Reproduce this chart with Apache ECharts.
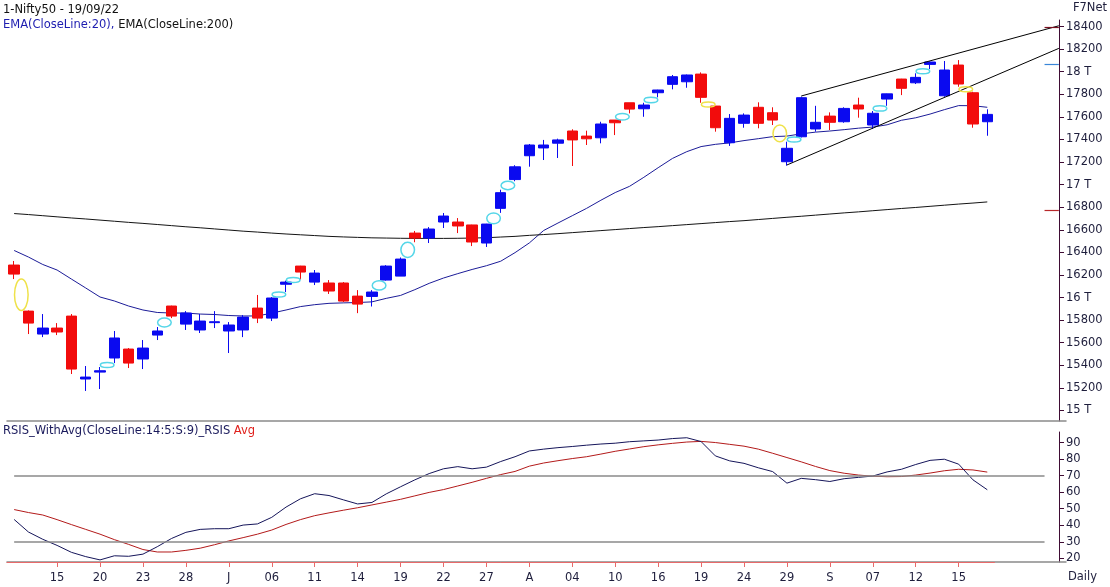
<!DOCTYPE html>
<html><head><meta charset="utf-8">
<script src="https://cdn.jsdelivr.net/npm/echarts@6/dist/echarts.min.js"></script>
<style>html,body{margin:0;padding:0;background:#fff}#c{width:1110px;height:587px}</style>
</head><body><div id="c"></div>
<script>
// ---- data ----
const dates = ['2022-06-10','2022-06-13','2022-06-14','2022-06-15','2022-06-16','2022-06-17','2022-06-20','2022-06-21','2022-06-22','2022-06-23','2022-06-24','2022-06-27','2022-06-28','2022-06-29','2022-06-30',
'2022-07-01','2022-07-04','2022-07-05','2022-07-06','2022-07-07','2022-07-08','2022-07-11','2022-07-12','2022-07-13','2022-07-14','2022-07-15','2022-07-18','2022-07-19','2022-07-20','2022-07-21','2022-07-22','2022-07-25','2022-07-26','2022-07-27','2022-07-28','2022-07-29',
'2022-08-01','2022-08-02','2022-08-03','2022-08-04','2022-08-05','2022-08-08','2022-08-10','2022-08-11','2022-08-12','2022-08-16','2022-08-17','2022-08-18','2022-08-19','2022-08-22','2022-08-23','2022-08-24','2022-08-25','2022-08-26','2022-08-29','2022-08-30',
'2022-09-01','2022-09-02','2022-09-05','2022-09-06','2022-09-07','2022-09-08','2022-09-09','2022-09-12','2022-09-13','2022-09-14','2022-09-15','2022-09-16','2022-09-19'];
const padCats = ['p1','p2','p3','p4','p5'];
const tickLabels = ['','','','15','','','20','','','23','','','28','','','J','','','06','','','11','','','14','','','19','','','22','','','27','','','A','','','04','','','10','','','16','','','19','','','24','','','29','','','S','','','07','','','12','','','15','',''];

const openP  = [16288,15880,15677,15730,15836,15279,15340,15465,15544,15456,15668,15925,15765,15713,15778,15704,15713,15907,15818,16118,16279,16137,16129,16129,16013,16010,16155,16190,16571,16527,16669,16669,16643,16483,16790,17045,17256,17325,17367,17475,17430,17415,17572,17725,17672,17814,17888,17911,17979,17696,17371,17543,17685,17637,17203,17424,17493,17607,17557,17705,17528,17758,17935,17902,18065,17787,18059,17814,17557];
const closeP = [16208,15774,15730,15695,15367,15296,15352,15642,15420,15553,15704,15836,15863,15792,15786,15757,15827,15818,15996,16137,16226,16217,16058,15969,15942,16049,16279,16341,16527,16607,16722,16634,16492,16651,16929,17158,17351,17351,17396,17396,17406,17537,17548,17669,17705,17838,17956,17971,17773,17504,17587,17616,17543,17572,17322,17770,17552,17552,17675,17670,17632,17804,17853,17950,18086,18015,17891,17537,17622.2];
const lowP   = [16164,15677,15650,15668,15323,15173,15190,15420,15376,15367,15624,15818,15713,15686,15730,15509,15650,15774,15792,16049,16160,16111,16032,15960,15862,15921,16150,16190,16490,16483,16616,16571,16456,16448,16750,17030,17159,17218,17236,17165,17351,17366,17439,17631,17601,17773,17844,17858,17725,17469,17343,17504,17499,17528,17168,17418,17469,17484,17548,17593,17493,17698,17793,17891,18024,17778,17867,17504,17433];
const highP  = [16324,15886,15854,15774,15854,15394,15385,15704,15553,15624,15739,15928,15880,15854,15880,15783,15845,16023,16004,16150,16281,16244,16155,16137,16066,16066,16287,16355,16590,16624,16749,16704,16645,16653,16955,17172,17360,17396,17407,17490,17478,17557,17572,17725,17725,17840,17971,17975,17994,17696,17625,17631,17729,17685,17380,17779,17698,17640,17685,17770,17652,17806,17937,17986,18090,18095,18103,17823,17667];

const ema20 = [16417,16359,16293,16244,16164,16085,16005,15970,15925,15890,
15868,15863,15863,15854,15850,15841,15837,15837,15862,15890,
15920,15937,15949,15953,15956,15962,15993,16019,16070,16126,
16173,16212,16249,16282,16322,16398,16484,16594,16660,16725,
16790,16862,16930,16985,17065,17150,17232,17292,17337,17357,
17370,17390,17407,17425,17430,17450,17465,17475,17487,17500,
17510,17530,17570,17592,17625,17664,17700,17699,17685];
const ema200 = [16744,16735,16725,16715,16705,16696,16686,16676,16666,16657,
16647,16637,16627,16618,16608,16598,16588,16580,16571,16563,
16556,16549,16542,16537,16533,16529,16527,16525,16524,16524,
16524,16525,16527,16530,16536,16542,16551,16558,16566,16575,
16584,16593,16602,16611,16620,16628,16637,16646,16655,16664,
16673,16681,16691,16701,16711,16720,16730,16740,16750,16759,
16769,16779,16789,16798,16808,16818,16828,16837,16847];

const rsi = [43.5,35.9,31.5,27.8,23.6,21,19,21.5,21.2,22.5,
27,32,35.7,37.5,37.9,37.9,40.1,40.8,44.8,51,
56,59.1,58,55.4,52.9,53.8,59,63.3,67.5,71.3,
74.2,75.5,74.2,75.2,78.6,81.5,85,86.1,87,87.7,
88.5,89.2,89.7,90.6,91.1,91.6,92.5,93,90.7,82,
79,77.5,74.8,72.5,65.5,68.4,67.6,66.5,68.2,69,
69.8,72.3,73.9,76.8,79.3,80,77,67.5,61.5];
const rsiAvg = [49.5,47.7,46.2,43.4,40.4,37.5,34.6,31.3,28.4,25.3,
23.8,23.8,24.8,26.1,28.2,30.5,32.5,34.6,37.1,40.5,
43.4,45.8,47.5,49.1,50.6,52.3,54,55.7,57.8,59.9,
61.6,63.8,66,68.4,70.7,72.6,75.8,77.7,79.1,80.4,
81.5,83.1,84.8,86.2,87.6,88.7,89.6,90.4,90.8,90.1,
89,87.9,86.1,83.6,81,78.4,75.6,73.1,71.5,70.4,
69.7,69.4,69.5,70.4,71.6,73,73.9,73.5,72.2];

// gap markers (ellipses between two candles)
const gapAfter  = [0,6,10,18,19,25,27,33,34,42,44,48,53,54,60,63,66];
const gapTop    = [16164,15420,15818,16049,16160,16150,16490,16750,17030,17631,17773,17725,17528,17418,17698,18024,17867];
const gapBottom = [15886,15385,15739,16004,16150,16066,16355,16653,16955,17572,17725,17696,17380,17380,17652,17986,17823];
const gapKind   = ['down','up','up','up','up','up','up','up','up','up','up','down','down','up','up','up','down'];

// trend channel lines
const trendFromIdx = [55, 54];
const trendFromVal = [17785, 17174];
const trendToIdx   = [73, 73];
const trendToVal   = [18407, 18207];

// short level marks next to the price axis
const sideMarkVals  = [18393, 18065, 16775];
const sideMarkKinds = ['maroon', 'blue', 'red'];

const lastClose = 17622.2;
const priceTicks = [15000,15200,15400,15600,15800,16000,16200,16400,16600,16800,17000,17200,17400,17600,17800,18000,18200,18400];
const rsiTicks = [20,30,40,50,60,70,80,90];
const rsiLevels = [70, 30];
const levelFromIdx = 0, levelToIdx = 72;

// ---- chart ----
const FONT = 'DejaVu Sans';
const L = 7, W = 1059;
const allCats = dates.concat(padCats);
const slot = W / allCats.length;
const axisCol = '#3f0c34';
const labCol = '#1e1e3c';
const BLUE = '#0a0af0', RED = '#f20c0c';
const sideCol = {maroon: '#7a1020', blue: '#3a86d8', red: '#b8282a'};

const candleData = dates.map((d, i) => [openP[i], closeP[i], lowP[i], highP[i]]);
const gapData = gapAfter.map((g, i) => [g, gapTop[i], gapBottom[i]]);

const chart = echarts.init(document.getElementById('c'), null, {renderer: 'canvas'});
const option = {
  animation: false,
  backgroundColor: '#ffffff',
  textStyle: {fontFamily: FONT},
  title: [
    {text: '1-Nifty50 - 19/09/22', left: 3, top: 4, padding: 0,
     textStyle: {fontFamily: FONT, fontSize: 11.5, fontWeight: 'normal', color: '#111'}},
    {text: '{b|EMA(CloseLine:20),} {k|EMA(CloseLine:200)}', left: 3, top: 19, padding: 0,
     textStyle: {fontFamily: FONT, fontSize: 11.5, fontWeight: 'normal',
       rich: {b: {color: '#1d1db0', fontFamily: FONT, fontSize: 11.5}, k: {color: '#111', fontFamily: FONT, fontSize: 11.5}}}},
    {text: '{b|RSIS_WithAvg(CloseLine:14:5:S:9)_RSIS} {r|Avg}', left: 3, top: 425, padding: 0,
     textStyle: {fontFamily: FONT, fontSize: 11.5, fontWeight: 'normal',
       rich: {b: {color: '#1a1a5c', fontFamily: FONT, fontSize: 11.5}, r: {color: '#e0201c', fontFamily: FONT, fontSize: 11.5}}}},
    {text: 'F7Net', right: 3, top: 2, padding: 0,
     textStyle: {fontFamily: FONT, fontSize: 11.5, fontWeight: 'normal', color: '#1e1e3c'}},
    {text: 'Daily', right: 13, top: 571, padding: 0,
     textStyle: {fontFamily: FONT, fontSize: 11.5, fontWeight: 'normal', color: '#1e1e3c'}}
  ],
  grid: [
    {left: L, top: 20, width: W, height: 401},
    {left: L, top: 432, width: W, height: 130},
    {left: L, top: 432, width: slot * dates.length, height: 130}
  ],
  xAxis: [
    {gridIndex: 0, type: 'category', data: allCats, boundaryGap: true,
     axisLine: {show: true, lineStyle: {color: '#8a8a8a', width: 1.5}},
     axisTick: {show: false}, axisLabel: {show: false}, splitLine: {show: false}},
    {gridIndex: 1, type: 'category', data: allCats, boundaryGap: true,
     axisLine: {show: true, lineStyle: {color: '#8a8a8a', width: 1.5}},
     axisTick: {show: false}, axisLabel: {show: false}, splitLine: {show: false}},
    {gridIndex: 2, type: 'category', data: dates, boundaryGap: true, position: 'bottom', offset: 4,
     axisLine: {show: true, lineStyle: {color: '#e86a6a', width: 1}},
     axisTick: {show: true, alignWithLabel: true, length: 5, interval: (i) => tickLabels[i] !== '',
       lineStyle: {color: '#e86a6a'}},
     axisLabel: {show: true, interval: (i) => tickLabels[i] !== '', formatter: (v, i) => tickLabels[i],
       color: labCol, fontSize: 11.5, fontFamily: FONT, margin: 6},
     splitLine: {show: false}}
  ],
  yAxis: [
    {gridIndex: 0, type: 'value', position: 'right', offset: -7, min: 14907, max: 18458,
     splitLine: {show: false},
     axisLine: {show: true, lineStyle: {color: axisCol, width: 1}},
     axisTick: {show: true, inside: false, length: 5, customValues: priceTicks, lineStyle: {color: axisCol}},
     axisLabel: {show: true, customValues: priceTicks, margin: 7, color: labCol, fontSize: 11.5, fontFamily: FONT,
       formatter: (v) => (v % 1000 === 0 ? (v / 1000) + ' T' : String(v))}},
    {gridIndex: 1, type: 'value', position: 'right', offset: -7, min: 17.74, max: 96.48,
     splitLine: {show: false},
     axisLine: {show: true, lineStyle: {color: axisCol, width: 1}},
     axisTick: {show: true, inside: false, length: 5, customValues: rsiTicks, lineStyle: {color: axisCol}},
     axisLabel: {show: true, customValues: rsiTicks, margin: 7, color: labCol, fontSize: 11.5, fontFamily: FONT}},
    {gridIndex: 2, type: 'value', show: false}
  ],
  series: [
    {type: 'candlestick', name: 'Nifty50', xAxisIndex: 0, yAxisIndex: 0, data: candleData,
     barWidth: 11, z: 4,
     itemStyle: {color: BLUE, color0: RED, borderColor: BLUE, borderColor0: RED, borderWidth: 1},
     markLine: {
       silent: true, symbol: ['none', 'none'], animation: false,
       data: trendFromIdx.map((s, i) => [
         {coord: [s, trendFromVal[i]], lineStyle: {color: '#000', width: 1, type: 'solid'}, label: {show: false}},
         {coord: [trendToIdx[i], trendToVal[i]]}
       ]).concat(sideMarkVals.map((v, i) => [
         {coord: [72, v], lineStyle: {color: sideCol[sideMarkKinds[i]], width: 1.2, type: 'solid'}, label: {show: false}},
         {coord: [72.7, v]}
       ])).concat([
         {yAxis: lastClose, lineStyle: {opacity: 0},
          label: {show: true, position: 'end', distance: -2, formatter: () => lastClose.toFixed(1),
            color: '#fff', backgroundColor: '#000', padding: [2, 3, 1, 2], fontSize: 11.5, fontFamily: FONT}}
       ])
     }},
    {type: 'line', name: 'EMA20', xAxisIndex: 0, yAxisIndex: 0, data: ema20, symbol: 'none', z: 3,
     lineStyle: {color: '#1c1c98', width: 1}},
    {type: 'line', name: 'EMA200', xAxisIndex: 0, yAxisIndex: 0, data: ema200, symbol: 'none', z: 3,
     lineStyle: {color: '#141414', width: 1}},
    {type: 'custom', name: 'gaps', xAxisIndex: 0, yAxisIndex: 0, data: gapData, z: 6,
     encode: {x: 0, y: [1, 2]},
     renderItem: function (params, api) {
       const i = api.value(0);
       const a = api.coord([i, api.value(1)]);
       const b = api.coord([i + 1, api.value(2)]);
       const cx = (a[0] + b[0]) / 2, cy = (a[1] + b[1]) / 2;
       const ry = Math.max(Math.abs(b[1] - a[1]) / 2, 2.5);
       const col = gapKind[params.dataIndex] === 'up' ? '#55d6e8' : '#efe24a';
       return {type: 'ellipse', shape: {cx: cx, cy: cy, rx: 6.8, ry: ry},
               style: {fill: null, stroke: col, lineWidth: 1.5}};
     }},
    {type: 'line', name: 'RSIS', xAxisIndex: 1, yAxisIndex: 1, data: rsi, symbol: 'none', z: 3,
     lineStyle: {color: '#15155a', width: 1},
     markLine: {silent: true, symbol: ['none', 'none'], animation: false, label: {show: false},
       lineStyle: {color: '#8a8a8a', width: 1.5, type: 'solid'},
       data: rsiLevels.map(v => [{coord: [levelFromIdx, v]}, {coord: [levelToIdx, v]}])}},
    {type: 'line', name: 'Avg', xAxisIndex: 1, yAxisIndex: 1, data: rsiAvg, symbol: 'none', z: 2,
     lineStyle: {color: '#b31a1a', width: 1}}
  ]
};
chart.setOption(option);
</script>
</body></html>
